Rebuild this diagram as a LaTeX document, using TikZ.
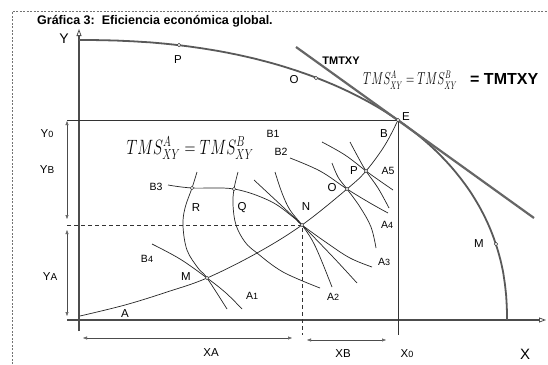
\documentclass[tikz,border=0pt]{standalone}
\usepackage{fontspec}
\setmainfont{Liberation Sans}
\usetikzlibrary{arrows.meta}
\newcommand\fs[1]{\fontsize{#1}{#1}\selectfont}
\begin{document}
\begin{tikzpicture}[x=1pt,y=-1pt,
  frame/.style={black!55, line width=0.5pt, dash pattern=on 2pt off 1.5pt},
  axis/.style={black!70, line width=1.6pt},
  ppf/.style={black!65, line width=1.8pt},
  tmt/.style={black!60, line width=2.2pt},
  boxline/.style={black!80, line width=0.8pt},
  guide/.style={black!80, line width=0.7pt, dash pattern=on 4pt off 3pt},
  curve/.style={black!85, line width=0.7pt},
  axtip/.style={-{Triangle[open,length=7pt,width=5pt,line width=0.8pt]}},
  dim/.style={black!70, line width=0.6pt, {Triangle[open,length=4pt,width=3pt]}-{Triangle[open,length=4pt,width=3pt]}},
  pt/.style={circle, draw=black!75, fill=white, line width=0.5pt, inner sep=0pt, minimum size=3.5pt},
  lbl/.style={font=\fs{11.5}, inner sep=0pt},
  big/.style={font=\fs{14}, inner sep=0pt},
]
\useasboundingbox (0,0) rectangle (548,364);
\fill[white] (0,0) rectangle (548,364);

% frame
\draw[frame] (12,364) -- (12,11) -- (548,11);

% title
\node[anchor=west, font=\fs{12.5}\bfseries, inner sep=0pt] (title) at (37,21) {Gráfica 3:\ \ Eficiencia económica global.};

% key coordinates
\coordinate (O0) at (79,320);
\coordinate (E) at (398,120);
\coordinate (N) at (302,225);
\coordinate (Mc) at (207,278);
\coordinate (Oc) at (347,189);
\coordinate (Pc) at (366,171);
\coordinate (R) at (192,188);
\coordinate (Q) at (234,189);
\coordinate (Pp) at (179,45);
\coordinate (Op) at (316,78);
\coordinate (Mp) at (496,244);
\coordinate (yTop) at (79,29);
\coordinate (yBot) at (79,331);
\coordinate (xLeft) at (67,320);
\coordinate (xRight) at (546,320);
\coordinate (Y0l) at (67,120);
\coordinate (Nl) at (67,225);
\coordinate (Nb) at (302,335);
\coordinate (Eb) at (398,335);
\coordinate (T1) at (296,47);
\coordinate (T2) at (534,218);

% axes
\draw[axis, axtip] (yBot) -- (yTop);
\draw[axis, axtip] (xLeft) -- (xRight);

% PPF
\draw[ppf] (507,320) -- plot[domain=0.05:89.95, samples=140, variable=\t]
  ({79+428*pow(cos(\t),0.909)}, {320-280*pow(sin(\t),0.909)}) -- (79,40);

% TMT tangent
\draw[tmt] (T1) -- (T2);

% box lines
\draw[boxline] (Y0l) -- (E) -- (Eb);
\draw[guide] (Nl) -- (N) -- (Nb);

% dimension arrows
\draw[dim] (67,121) -- (67,219);
\draw[dim] (67,230) -- (67,316);
\draw[dim] (83,338) -- (292,338);
\draw[dim] (307,340) -- (386,340);

% contract curve
\draw[curve] plot[smooth, tension=0.6] coordinates {(80,316) (125,305) (167,292) (Mc) (257,253) (N) (Oc) (Pc) (385,145) (E)};

% indifference curves
\draw[curve] plot[smooth, tension=0.6] coordinates {(197,172) (R) (185,208) (183,226) (187,250) (198,268) (Mc) (227,309)};
\draw[curve] plot[smooth, tension=0.6] coordinates {(152,244) (180,259) (Mc) (226,293) (242,309)};
\draw[curve] plot[smooth, tension=0.6] coordinates {(168,185) (R) (Q) (270,201) (293,217) (N) (327,243) (350,258) (372,267)};
\draw[curve] plot[smooth, tension=0.6] coordinates {(238,172) (Q) (233,205) (236,225) (245,242) (257,253) (283,272) (320,288)};
\draw[curve] plot[smooth, tension=0.6] coordinates {(254,180) (283,207) (N) (333,257) (357,283)};
\draw[curve] plot[smooth, tension=0.6] coordinates {(275,172) (282,193) (290,210) (N) (312,240) (320,257) (332,287)};
\draw[curve] plot[smooth, tension=0.6] coordinates {(290,158) (320,171) (Oc) (370,203) (388,213)};
\draw[curve] plot[smooth, tension=0.6] coordinates {(322,142) (345,155) (Pc) (380,181) (393,190)};
\draw[curve] plot[smooth, tension=0.6] coordinates {(350,142) (358,157) (Pc) (378,188) (389,208)};
\draw[curve] plot[smooth, tension=0.6] coordinates {(332,163) (338,177) (Oc) (360,207) (371,227) (376,248)};

% points
\foreach \p in {Pp,Op,Mp,E,Mc,N,Oc,Pc,R,Q}
  \node[pt] at (\p) {};

% formulas
\node[inner sep=0pt] (f2) at (190,148) {\scalebox{0.73}[1]{\fs{21}$TMS^A_{XY} = TMS^B_{XY}$}};
\node[anchor=west, inner sep=0pt] (f1) at (363,80) {\scalebox{0.66}[1]{\fs{16}$TMS^A_{XY} = TMS^B_{XY}$}};
\node[anchor=west, inner sep=0pt, font=\fs{16}\bfseries] (f1b) at (470,79) {= TMTXY};
\node[inner sep=0pt, font=\fs{11}\bfseries] (lTMT) at (341,61) {TMTXY};

% axis labels
\node[big] (lY) at (64,39) {Y};
\node[big, font=\fs{15}] (lX) at (525,354) {X};
\node[lbl] (lY0) at (47,134) {Y{\fs{9}0}};
\node[lbl] (lYB) at (47,170) {Y{\fs{10}B}};
\node[lbl] (lYA) at (50,277) {Y{\fs{10}A}};
\node[lbl] (lXA) at (211,353) {XA};
\node[lbl] (lXB) at (343,354) {XB};
\node[lbl] (lX0) at (407,354) {X{\fs{9}0}};

% PPF labels
\node[lbl] (lP) at (178,60) {P};
\node[lbl] (lO) at (294,80) {O};
\node[lbl] (lM) at (479,244) {M};

% box labels
\node[lbl] (lA) at (125,314) {A};
\node[lbl] (lB) at (384,134) {B};
\node[lbl] (lE) at (406,117) {E};
\node[lbl] (lM2) at (186,277) {M};
\node[lbl] (lN) at (306,207) {N};
\node[lbl] (lO2) at (332,188) {O};
\node[lbl] (lP2) at (354,171) {P};
\node[lbl] (lR) at (196,208) {R};
\node[lbl] (lQ) at (242,208) {Q};
\node[lbl, font=\fs{10.5}] (lB1) at (273,134) {B1};
\node[lbl, font=\fs{10.5}] (lB2) at (281,152) {B2};
\node[lbl, font=\fs{10.5}] (lB3) at (156,187) {B3};
\node[lbl, font=\fs{10.5}] (lB4) at (147,259) {B{\fs{9}4}};
\node[lbl, font=\fs{10.5}] (lA1) at (252,296) {A{\fs{9}1}};
\node[lbl, font=\fs{10.5}] (lA2) at (333,297) {A{\fs{9}2}};
\node[lbl, font=\fs{10.5}] (lA3) at (384,262) {A{\fs{9}3}};
\node[lbl, font=\fs{10.5}] (lA4) at (387,225) {A{\fs{9}4}};
\node[lbl, font=\fs{10.5}] (lA5) at (388,171) {A5};
\end{tikzpicture}
\end{document}
